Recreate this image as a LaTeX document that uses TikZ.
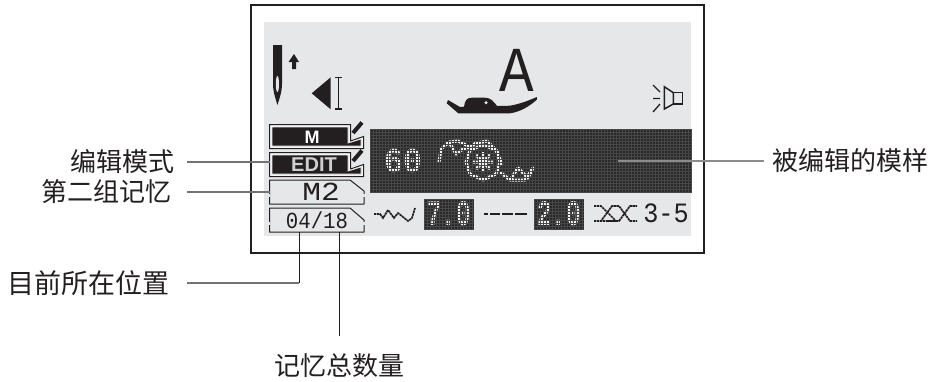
\documentclass[tikz,border=0pt]{standalone}
\usepackage{fontspec}
\usetikzlibrary{positioning}
\setmainfont{Liberation Sans}
\newfontfamily\cjkfont{Noto Sans CJK SC}
\newfontfamily\lcdfont[FakeStretch=0.9]{Liberation Mono}
\newfontfamily\lcdnarrow[FakeStretch=0.67]{Liberation Mono}
\newfontfamily\lcdwide[FakeStretch=1.2]{Liberation Mono}
\definecolor{lcdgray}{HTML}{E6E7E8}
\definecolor{lcdink}{HTML}{231F20}
\definecolor{lcddark}{HTML}{2A2829}
\definecolor{lcdlight}{HTML}{F4F4F4}
\tikzset{
    cnlabel/.style={inner sep=0pt, text=lcdink, font=\cjkfont\fontsize{26}{26}\selectfont},
    leader/.style={draw=black!55, line width=1.2pt, shorten <=12pt},
    drop/.style={draw=lcdink, line width=1pt},
    lcdtext/.style={inner sep=0pt, text=lcdink},
    lcdinv/.style={inner sep=0pt, text=lcdlight},
    membox/.style={draw=lcdink, line width=1pt, line join=round},
    gapmark/.style={draw=lcdgray, line width=1.6pt},
    editbox/.style={draw=lcdink, fill=white!60!lcdgray, line width=1pt},
    editfill/.style={fill=lcdink, draw=lcdgray, line width=.8pt},
    pencil/.style={draw=lcdink, line width=4pt},
    stitch/.style={draw=lcdlight, line width=3pt, line join=round},
    thinink/.style={draw=lcdink, line width=1.3pt},
    pixline/.style={draw=lcdink, line width=1.7pt, dash pattern=on 2.4pt off .6pt},
    gridline/.style={draw=black!72, line width=.4pt}
}
\begin{document}
\begin{tikzpicture}[x=1pt, y=-1pt]
    \useasboundingbox (0,0) rectangle (934,381);
    \fill [lcdgray] (264,22) rectangle (691,236);
    \draw [draw=lcdink, line width=2.4pt] (251,5) rectangle (704,253);

    \fill [lcddark] (370,129) rectangle (691,193);
    \node (patternno) [lcdinv, font=\lcdfont\bfseries\fontsize{35}{35}\selectfont] at (403,161) {60};
    \draw [stitch] (439,162) -- (441,149) -- (449,142) -- (458,141) -- (470,147) -- (476,143) -- (487,141) -- (497,151) -- (502,165);
    \draw [stitch] (449,142) -- (456,154) -- (463,149) -- (470,147);
    \draw [stitch] (483,145) -- (470,150) -- (466,162) -- (470,174) -- (483,180) -- (496,174) -- (500,162) -- (496,150) -- cycle;
    \draw [stitch] (473,162) -- (493,162) (483,152) -- (483,172) (476,155) -- (490,169) (490,155) -- (476,169);
    \draw [stitch] (500,172) -- (510,180) -- (518,168) -- (528,178) -- (533,168) -- (525,180) -- (510,180);
    \foreach \gx in {370,373,...,691} \draw [gridline] (\gx,129) -- (\gx,193);
    \foreach \gy in {129,132,...,193} \draw [gridline] (370,\gy) -- (691,\gy);

    \fill [lcdink] (273,45) -- (282,45) -- (282,84) .. controls (282,92) and (279,100) .. (277.4,105) .. controls (276,100) and (273,92) .. (273,84) -- cycle;
    \fill [lcdgray] (277.4,84) ellipse (1.6 and 8);
    \fill [lcdink] (294,54) -- (299,62) -- (296,62) -- (296,69) -- (292,69) -- (292,62) -- (288.5,62) -- cycle;
    \fill [lcdink] (311.7,93.3) -- (330.7,77.3) -- (330.7,109.3) -- cycle;
    \draw [thinink] (335,77.5) -- (342,77.5) (338.5,77.5) -- (338.5,109) (335,109) -- (342,109);

    \node (modeA) [lcdtext, font=\lcdfont\fontsize{64}{64}\selectfont] at (517,70) {A};
    \fill [lcdink] (448,100) -- (460,107) -- (464,106.7) .. controls (465,100) and (467,97.7) .. (472,97.7) -- (485,97.7) .. controls (491,97.7) and (494,102) .. (497,106) -- (510,105.7) .. controls (520,104) and (530,100) .. (536.7,97) -- (537,99.5) .. controls (530,106) and (520,112) .. (510,113.3) -- (458.3,113.3) -- (446.7,103.3) -- cycle;
    \fill [lcdgray] (486,102.7) circle (1.7);

    \draw [thinink, line width=1.5pt, line join=miter] (664.3,86.7) -- (664.3,109) -- (673.3,104) -- (673.3,92.7) -- cycle;
    \draw [thinink, line width=1.5pt] (673.3,92.7) rectangle (682.6,104);
    \draw [thinink] (653,85) -- (660,92) (653,98.5) -- (660,98.5) (653,112) -- (660,104);

    \draw [editbox] (269.5,124.5) -- (350.5,124.5) -- (350.5,141) -- (363.5,136.5) -- (363.5,148.5) -- (269.5,148.5) -- cycle;
    \draw [editfill] (272,127) -- (348,127) -- (348,143) -- (361,139) -- (361,146) -- (272,146) -- cycle;
    \draw [pencil] (362,122.5) -- (353,133);
    \node (mtag) [inner sep=0pt, text=white, font=\bfseries\fontsize{18}{18}\selectfont] at (312,137) {M};

    \draw [editbox] (269.5,152.5) -- (350.5,152.5) -- (350.5,169) -- (363.5,164.5) -- (363.5,176.5) -- (269.5,176.5) -- cycle;
    \draw [editfill] (272,155) -- (348,155) -- (348,171) -- (361,167) -- (361,174) -- (272,174) -- cycle;
    \draw [pencil] (362,150.5) -- (353,161);
    \node (edittag) [inner sep=0pt, text=lcdlight!85!black, font=\bfseries\fontsize{20}{20}\selectfont] at (314,165) {EDIT};

    \draw [membox] (269.5,180) -- (350,180) -- (364,191) -- (364,204) -- (269.5,204) -- cycle;
    \draw [gapmark] (269.5,194) -- (269.5,197) (364,194) -- (364,197);
    \node (memgroup) [lcdtext, font=\lcdwide\fontsize{26}{26}\selectfont] at (321,192) {M2};

    \draw [membox] (269.5,208) -- (350,208) -- (364,220) -- (364,232) -- (269.5,232) -- cycle;
    \draw [gapmark] (269.5,222) -- (269.5,225) (364,222) -- (364,225);
    \node (memcount) [lcdtext, font=\lcdfont\fontsize{23}{23}\selectfont] at (317,220) {04/18};

    \draw [pixline] (374,214) -- (380,214) -- (383,218) -- (388,210) -- (394,218) -- (398,213) -- (408,221) -- (412,218) -- (415,208);
    \fill [lcddark] (424,199) rectangle (474,229);
    \fill [lcddark] (534,199) rectangle (584,229);
    \node (stitchlen) [lcdinv, font=\lcdnarrow\bfseries\fontsize{36}{36}\selectfont] at (449,214) {7.0};
    \node (stitchwid) [lcdinv, font=\lcdnarrow\bfseries\fontsize{36}{36}\selectfont] at (559,214) {2.0};
    \foreach \bx in {424,534} {
        \foreach \gx in {0,3,...,50} \draw [gridline] (\bx+\gx,199) -- (\bx+\gx,229);
        \foreach \gy in {199,202,...,229} \draw [gridline] (\bx,\gy) -- (\bx+50,\gy);
    }
    \draw [pixline, line width=1.9pt, dash pattern=on 4pt off 2pt on 10pt off 2pt on 11pt off 2pt on 12pt off 1pt] (484,214) -- (527,214);
    \draw [pixline] (594,206) -- (601,206) -- (616,221) -- (608,221) -- (601,221);
    \draw [pixline] (594,221) -- (601,221) -- (612,206) -- (619,206) -- (630,221) -- (637,221);
    \draw [pixline] (607,221) -- (619,221) -- (630,206) -- (637,206);
    \node (tension) [lcdtext, font=\lcdfont\fontsize{28}{28}\selectfont] at (666,213) {3-5};

    \coordinate (editend) at (270,162);
    \coordinate (memend) at (270,192);
    \coordinate (posbend) at (299,283);
    \coordinate (postop) at (299,232);
    \coordinate (totaltop) at (339,232);
    \coordinate (patternend) at (618,161);

    \node (editlabel) [cnlabel, anchor=east] at (175,162) {编辑模式};
    \node (memlabel) [cnlabel, anchor=east] at (172,192) {第二组记忆};
    \node (poslabel) [cnlabel, anchor=east, font=\cjkfont\fontsize{27}{27}\selectfont] at (170,283) {目前所在位置};
    \node (totallabel) [cnlabel] at (339,366) {记忆总数量};
    \node (patternlabel) [cnlabel, anchor=west] at (772,161) {被编辑的模样};

    \draw [leader] (editlabel.east) -- (editend);
    \draw [leader, shorten <=15pt] (memlabel.east) -- (memend);
    \draw [leader, shorten <=17pt] (poslabel.east) -- (posbend);
    \draw [drop] (posbend) -- (postop);
    \draw [drop] (totallabel.north) ++(0,-18) -- (totaltop);
    \draw [leader, draw=black!45, shorten <=8pt] (patternlabel.west) -- (patternend);
\end{tikzpicture}
\end{document}
